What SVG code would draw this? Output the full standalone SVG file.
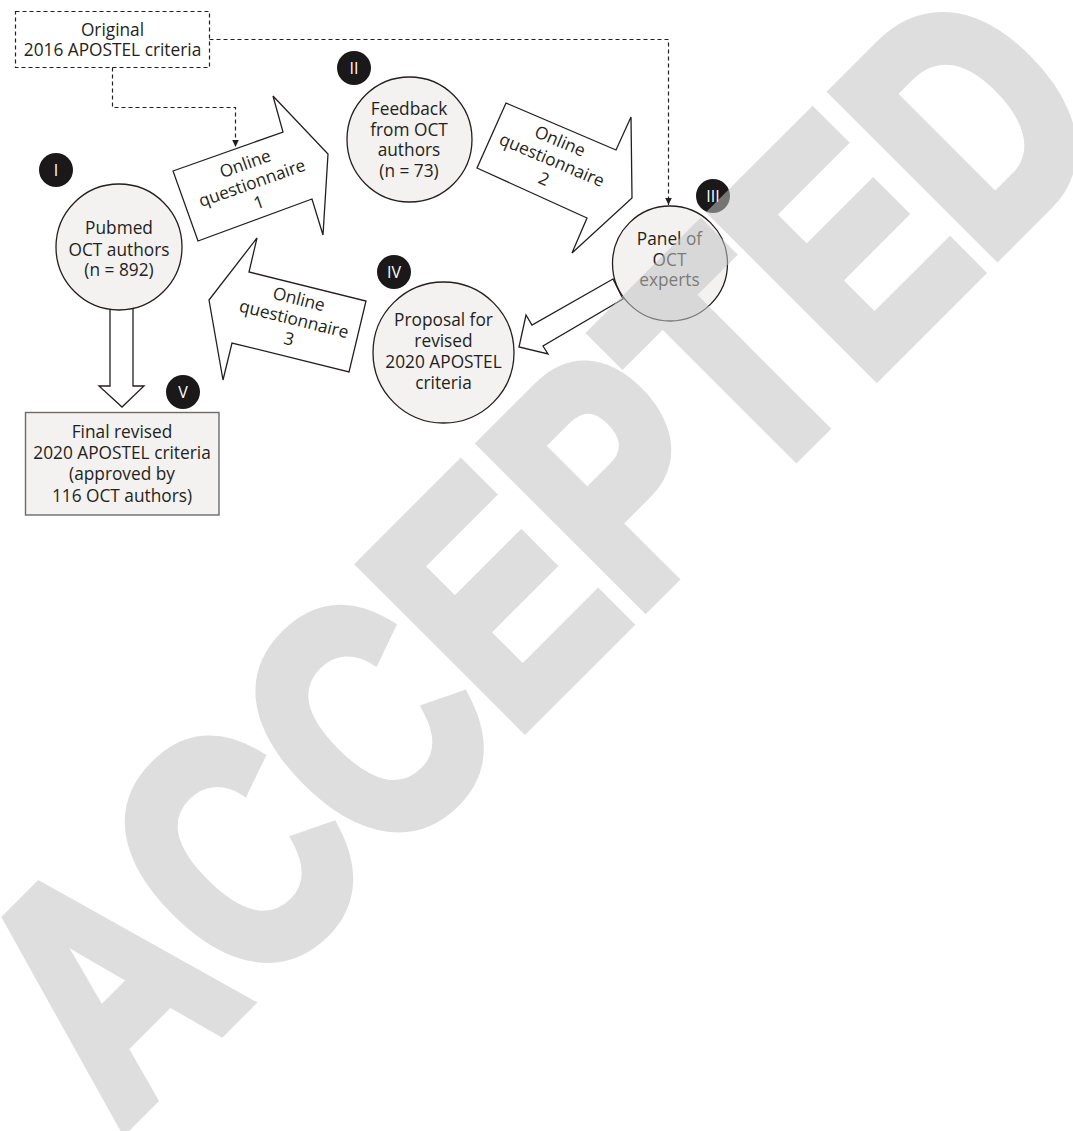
<svg xmlns="http://www.w3.org/2000/svg" width="1073" height="1131" viewBox="0 0 1073 1131">
<defs>
<style>
.t{font-family:"Open Sans","Liberation Sans",Arial,sans-serif;font-size:17.3px;fill:#231f20;text-anchor:middle}
.b{font-family:"Open Sans","Liberation Sans",Arial,sans-serif;font-size:16px;fill:#ffffff;text-anchor:middle}
.node{fill:#f4f1f1;stroke:#231f20;stroke-width:1.3}
.badge{fill:#1a1818}
.blk{fill:#ffffff;stroke:#231f20;stroke-width:1.3;stroke-linejoin:miter}
.dash{fill:none;stroke:#231f20;stroke-width:1.2;stroke-dasharray:4 3}
</style>
<marker id="ah" markerUnits="userSpaceOnUse" markerWidth="9" markerHeight="8" refX="7.5" refY="3.5" orient="auto">
<path d="M0,0 L7.5,3.5 L0,7 Z" fill="#231f20"/>
</marker>
</defs>
<rect x="0" y="0" width="1073" height="1131" fill="#ffffff"/>

<g id="connectors">
<path class="dash" d="M209.5,39.5 H668.5 V205" marker-end="url(#ah)"/>
<path class="dash" d="M112.5,67.5 V107.5 H235.5 V147" marker-end="url(#ah)"/>
<polygon class="blk" points="110,300 110,386 99,386 122,407 144,386 133,386 133,300"/>
<polygon class="blk" points="613,279 532,325 526,315 519,347 548,354 543,346 623,299"/>
</g>

<g id="arrow-q1">
<polygon class="blk" points="173,171 283,132 273,96 328,154 323,235 312,199 198,241"/>
<g transform="translate(252,183) rotate(-19.5)">
<text class="t" x="0" y="-14.5">Online</text>
<text class="t" x="0" y="6">questionnaire</text>
<text class="t" x="0" y="26.5">1</text>
</g>
</g>

<g id="arrow-q2">
<polygon class="blk" points="506,103 616,150 631,117 632,198 572,253 587,218 477,168"/>
<g transform="translate(552,160) rotate(23)">
<text class="t" x="0" y="-14.5">Online</text>
<text class="t" x="0" y="6">questionnaire</text>
<text class="t" x="0" y="26.5">2</text>
</g>
</g>

<g id="arrow-q3">
<polygon class="blk" points="257,238 249,272 366,301 349,372 232,343 223,380 209,300"/>
<g transform="translate(294,319) rotate(14)">
<text class="t" x="0" y="-14.5">Online</text>
<text class="t" x="0" y="6">questionnaire</text>
<text class="t" x="0" y="26.5">3</text>
</g>
</g>

<g id="node-original">
<rect class="dash" x="15.5" y="11.5" width="194" height="56"/>
<text class="t" x="112.5" y="35.5">Original</text>
<text class="t" x="112.5" y="56">2016 APOSTEL criteria</text>
</g>

<g id="node-pubmed">
<circle class="node" cx="119" cy="247" r="63"/>
<text class="t" x="119" y="234">Pubmed</text>
<text class="t" x="119" y="255.5">OCT authors</text>
<text class="t" x="119" y="276">(n = 892)</text>
<circle class="badge" cx="56" cy="170" r="17"/>
<text class="b" x="56" y="176">I</text>
</g>

<g id="node-feedback">
<circle class="node" cx="409.5" cy="139.5" r="62.5"/>
<text class="t" x="409" y="115">Feedback</text>
<text class="t" x="409" y="135.5">from OCT</text>
<text class="t" x="409" y="156">authors</text>
<text class="t" x="409" y="176.5">(n = 73)</text>
<circle class="badge" cx="354" cy="68" r="17"/>
<text class="b" x="354" y="74">II</text>
</g>

<g id="node-panel">
<circle class="node" cx="670" cy="263.5" r="57.5"/>
<text class="t" x="669.5" y="245">Panel of</text>
<text class="t" x="669.5" y="265.5">OCT</text>
<text class="t" x="669.5" y="286">experts</text>
<circle class="badge" cx="713" cy="196" r="17"/>
<text class="b" x="713" y="202">III</text>
</g>

<g id="node-proposal">
<circle class="node" cx="443.5" cy="352.5" r="70.5"/>
<text class="t" x="443.5" y="325.5">Proposal for</text>
<text class="t" x="443.5" y="346.5">revised</text>
<text class="t" x="443.5" y="367.5">2020 APOSTEL</text>
<text class="t" x="443.5" y="388.5">criteria</text>
<circle class="badge" cx="394" cy="272" r="17"/>
<text class="b" x="394" y="278">IV</text>
</g>

<g id="node-final">
<rect x="25.5" y="412.5" width="193.5" height="102.5" fill="#f4f1f1" stroke="#6b6b6b" stroke-width="1.4"/>
<text class="t" x="122" y="438">Final revised</text>
<text class="t" x="122" y="459">2020 APOSTEL criteria</text>
<text class="t" x="122" y="480">(approved by</text>
<text class="t" x="122" y="501.5">116 OCT authors)</text>
<circle class="badge" cx="183" cy="392" r="17"/>
<text class="b" x="183" y="398">V</text>
</g>

<g id="watermark">
<text transform="translate(119.7,1129) rotate(-45) scale(0.78,1)" font-family="'Liberation Sans',Arial,sans-serif" font-weight="bold" font-size="328" fill="#c4c4c4" stroke="#c4c4c4" stroke-width="16" stroke-linejoin="miter" opacity="0.54">ACCEPTED</text>
</g>
</svg>
